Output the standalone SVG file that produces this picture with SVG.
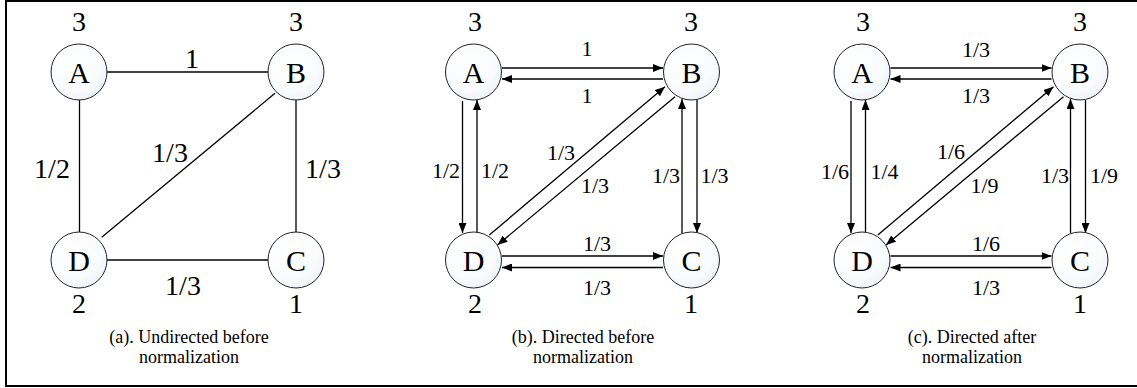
<svg xmlns="http://www.w3.org/2000/svg" width="1137" height="388" viewBox="0 0 1137 388">
<style>
  .frame{fill:#fff;stroke:#000;stroke-width:2}
  .node circle{fill:url(#ng);stroke:#222;stroke-width:1}
  .nl{font-family:"Liberation Serif","Times New Roman",serif;font-size:30px;text-anchor:middle;fill:#000}
  .deg{font-family:"Liberation Serif","Times New Roman",serif;font-size:28px;text-anchor:middle;fill:#000}
  .ela{font-family:"Liberation Serif","Times New Roman",serif;font-size:28px;text-anchor:middle;fill:#000}
  .elb{font-family:"Liberation Serif","Times New Roman",serif;font-size:22px;text-anchor:middle;fill:#000}
  .cap{font-family:"Liberation Serif","Times New Roman",serif;font-size:18px;text-anchor:middle;fill:#000}
  .e{fill:none;stroke:#000;stroke-width:1.3}
  .a{fill:none;stroke:#000;stroke-width:1.3;marker-end:url(#ah)}
</style>
<defs>
  <radialGradient id="ng" cx="0.4" cy="0.35" r="0.75">
    <stop offset="0" stop-color="#ffffff"/>
    <stop offset="0.65" stop-color="#fafbfd"/>
    <stop offset="1" stop-color="#eaeef6"/>
  </radialGradient>
  <marker id="ah" markerUnits="userSpaceOnUse" markerWidth="10" markerHeight="8" refX="10" refY="4" orient="auto">
    <path d="M0,0 L10,4 L0,8 z" fill="#000"/>
  </marker>
</defs>
<rect class="frame" x="6" y="1" width="1132" height="385"/>

<!-- Panel (a) -->
<g id="edges-a">
  <path class="e" d="M107,72 L268,72"/>
  <path class="e" d="M79.5,100 L79.5,232"/>
  <path class="e" d="M296,100 L296,232"/>
  <path class="e" d="M107,260 L268,260"/>
  <path class="e" d="M101.7,237.3 L275,93.3"/>
</g>
<g id="labels-a">
  <text class="ela" x="192" y="68">1</text>
  <text class="ela" x="52" y="178">1/2</text>
  <text class="ela" x="170" y="162">1/3</text>
  <text class="ela" x="323" y="178">1/3</text>
  <text class="ela" x="183" y="295">1/3</text>
  <text class="cap" x="189" y="343">(a). Undirected before</text>
  <text class="cap" x="189" y="363">normalization</text>
</g>
<g id="a-A" class="node"><circle cx="79" cy="72" r="28"/><text class="nl" x="79" y="82.5">A</text><text class="deg" x="79" y="31">3</text></g>
<g id="a-B" class="node"><circle cx="296" cy="72" r="28"/><text class="nl" x="296" y="82.5">B</text><text class="deg" x="296" y="31">3</text></g>
<g id="a-C" class="node"><circle cx="296" cy="260" r="28"/><text class="nl" x="296" y="270.5">C</text><text class="deg" x="296" y="313">1</text></g>
<g id="a-D" class="node"><circle cx="79" cy="260" r="28"/><text class="nl" x="79" y="270.5">D</text><text class="deg" x="79" y="313">2</text></g>

<!-- Panel (b) -->
<g id="edges-b">
  <path class="a" d="M502,68 L663,68"/>
  <path class="a" d="M663,79 L502,79"/>
  <path class="a" d="M462.5,101 L462.5,233"/>
  <path class="a" d="M477,232 L477,100"/>
  <path class="a" d="M697,100 L697,233"/>
  <path class="a" d="M682,233 L682,99"/>
  <path class="a" d="M502,256 L663,256"/>
  <path class="a" d="M663,267.5 L502,267.5"/>
  <path class="a" d="M489.3,235 L665,86.7"/>
  <path class="a" d="M675,96.7 L497.5,245"/>
</g>
<g id="labels-b">
  <text class="elb" x="587" y="56">1</text>
  <text class="elb" x="587" y="103">1</text>
  <text class="elb" x="446" y="178">1/2</text>
  <text class="elb" x="495" y="178">1/2</text>
  <text class="elb" x="561" y="160">1/3</text>
  <text class="elb" x="595" y="193">1/3</text>
  <text class="elb" x="666" y="183">1/3</text>
  <text class="elb" x="714.5" y="183">1/3</text>
  <text class="elb" x="597" y="251">1/3</text>
  <text class="elb" x="597" y="295">1/3</text>
  <text class="cap" x="583" y="343">(b). Directed before</text>
  <text class="cap" x="583" y="363">normalization</text>
</g>
<g id="b-A" class="node"><circle cx="473.5" cy="72" r="28"/><text class="nl" x="473.5" y="82.5">A</text><text class="deg" x="475" y="31">3</text></g>
<g id="b-B" class="node"><circle cx="691.5" cy="72" r="28"/><text class="nl" x="691.5" y="82.5">B</text><text class="deg" x="691" y="31">3</text></g>
<g id="b-C" class="node"><circle cx="691.5" cy="260" r="28"/><text class="nl" x="691.5" y="270.5">C</text><text class="deg" x="691" y="313">1</text></g>
<g id="b-D" class="node"><circle cx="473.5" cy="260" r="28"/><text class="nl" x="473.5" y="270.5">D</text><text class="deg" x="475" y="313">2</text></g>

<!-- Panel (c) -->
<g id="edges-c">
  <path class="a" d="M890.5,68 L1051.5,68"/>
  <path class="a" d="M1051.5,79 L890.5,79"/>
  <path class="a" d="M851,101 L851,233"/>
  <path class="a" d="M865.5,232 L865.5,100"/>
  <path class="a" d="M1085.5,100 L1085.5,233"/>
  <path class="a" d="M1070.5,233 L1070.5,99"/>
  <path class="a" d="M890.5,256 L1051.5,256"/>
  <path class="a" d="M1051.5,267.5 L890.5,267.5"/>
  <path class="a" d="M877.8,235 L1053.5,86.7"/>
  <path class="a" d="M1063.5,96.7 L886,245"/>
</g>
<g id="labels-c">
  <text class="elb" x="976" y="57">1/3</text>
  <text class="elb" x="976" y="103">1/3</text>
  <text class="elb" x="835" y="179">1/6</text>
  <text class="elb" x="884.5" y="179">1/4</text>
  <text class="elb" x="951" y="159">1/6</text>
  <text class="elb" x="984.5" y="193">1/9</text>
  <text class="elb" x="1055" y="183">1/3</text>
  <text class="elb" x="1104" y="183">1/9</text>
  <text class="elb" x="986" y="251">1/6</text>
  <text class="elb" x="986" y="295">1/3</text>
  <text class="cap" x="972" y="343">(c). Directed after</text>
  <text class="cap" x="972" y="363">normalization</text>
</g>
<g id="c-A" class="node"><circle cx="862" cy="72" r="28"/><text class="nl" x="862" y="82.5">A</text><text class="deg" x="863" y="31">3</text></g>
<g id="c-B" class="node"><circle cx="1080" cy="72" r="28"/><text class="nl" x="1080" y="82.5">B</text><text class="deg" x="1080" y="31">3</text></g>
<g id="c-C" class="node"><circle cx="1080" cy="260" r="28"/><text class="nl" x="1080" y="270.5">C</text><text class="deg" x="1080" y="313">1</text></g>
<g id="c-D" class="node"><circle cx="862" cy="260" r="28"/><text class="nl" x="862" y="270.5">D</text><text class="deg" x="863" y="313">2</text></g>
</svg>
